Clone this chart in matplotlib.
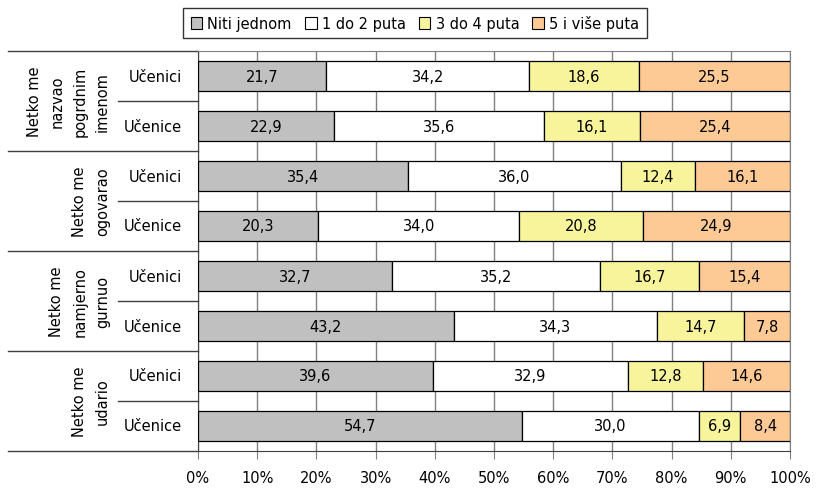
import matplotlib

matplotlib.use("Agg")
import matplotlib.pyplot as plt
import numpy as np
from matplotlib.patches import Patch

# Data
groups = ["Netko me\nnazvao\npogrdnim\nimenom", "Netko me\nogovarao",
          "Netko me\nnamjerno\ngurnuo", "Netko me\nudario"]
subgroups = ["Učenici", "Učenice"]
series = ["Niti jednom", "1 do 2 puta", "3 do 4 puta", "5 i više puta"]
niti_jednom = [21.7, 22.9, 35.4, 20.3, 32.7, 43.2, 39.6, 54.7]
jedan_do_dva = [34.2, 35.6, 36.0, 34.0, 35.2, 34.3, 32.9, 30.0]
tri_do_cetiri = [18.6, 16.1, 12.4, 20.8, 16.7, 14.7, 12.8, 6.9]
pet_i_vise = [25.5, 25.4, 16.1, 24.9, 15.4, 7.8, 14.6, 8.4]
xticks = [0, 10, 20, 30, 40, 50, 60, 70, 80, 90, 100]

colors = ["#C0C0C0", "#FFFFFF", "#F8F49C", "#FDCA96"]
fs = 10.5
plt.rcParams["font.family"] = "DejaVu Sans"

values = np.array([niti_jednom, jedan_do_dva, tri_do_cetiri, pet_i_vise])
shares = values / values.sum(axis=0) * 100
n_rows = values.shape[1]
y = np.arange(n_rows)

fig = plt.figure(figsize=(8.16, 4.89), dpi=100)
ax = fig.add_axes([198 / 816, 1 - 452 / 489, 592 / 816, 400 / 489])

left = np.zeros(n_rows)
for k in range(len(series)):
    ax.barh(y, shares[k], left=left, height=0.6, color=colors[k],
            edgecolor="black", linewidth=0.9, zorder=3, label=series[k])
    for i in range(n_rows):
        ax.text(left[i] + shares[k][i] / 2, y[i], f"{values[k][i]:.1f}".replace(".", ","),
                ha="center", va="center", fontsize=fs, zorder=4)
    left += shares[k]

ax.set_xlim(0, 100)
ax.set_ylim(n_rows - 0.5, -0.5)
ax.set_xticks(xticks)
ax.set_xticklabels([f"{t}%" for t in xticks], fontsize=fs)
ax.set_yticks([])
ax.grid(axis="x", color="#808080", linewidth=1, zorder=0)
ax.tick_params(axis="x", length=6, color="#808080", pad=8)
for s in ax.spines.values():
    s.set_color("#808080")
ax.spines["left"].set_color("#404040")
ax.spines["bottom"].set_color("#404040")

# left label table
trans = ax.get_yaxis_transform()
x_outer = (8 - 198) / 592
x_inner = (118 - 198) / 592
for g in range(len(groups) + 1):
    yy = g * 2 - 0.5
    ax.plot([x_outer, 0], [yy, yy], color="#404040", lw=1, transform=trans, clip_on=False)
for g in range(len(groups)):
    yy = g * 2 + 0.5
    ax.plot([x_inner, 0], [yy, yy], color="#404040", lw=1, transform=trans, clip_on=False)
    ax.text((110 - 198) / 592, g * 2 + 0.5, groups[g], rotation=90, ha="right", va="center",
            multialignment="center", fontsize=fs, transform=trans, linespacing=1.65)
    for j, sub in enumerate(subgroups):
        ax.text(-0.027, g * 2 + j, sub, ha="right", va="center", fontsize=fs, transform=trans)

handles = [Patch(facecolor=c, edgecolor="black", linewidth=0.8) for c in colors]
fig.legend(handles, series, loc="center", bbox_to_anchor=(415 / 816, 1 - 24 / 489), ncol=4,
           fontsize=fs, frameon=True, fancybox=False, edgecolor="black",
           handlelength=0.8, handleheight=0.8, handletextpad=0.35, columnspacing=0.9,
           borderpad=0.5)

fig.savefig("out.png", dpi=100)
